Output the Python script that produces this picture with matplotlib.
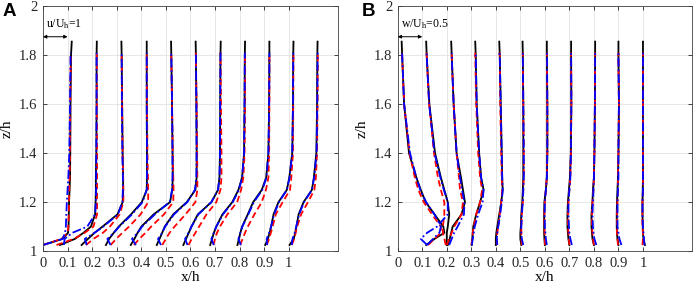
import matplotlib
matplotlib.use("Agg")
import matplotlib.pyplot as plt
import numpy as np

plt.rcParams['font.family'] = 'Liberation Serif'
plt.rcParams['mathtext.fontset'] = 'custom'
plt.rcParams['mathtext.rm'] = 'Liberation Serif'
plt.rcParams['mathtext.it'] = 'Liberation Serif:italic'

# measurement stations (x/h) and heights (z/h)
stations = [0.0, 0.1, 0.2, 0.3, 0.4, 0.5, 0.6, 0.7, 0.8, 0.9, 1.0]
z_les = [1.025, 1.05, 1.075, 1.1, 1.15, 1.2, 1.25, 1.3, 1.4, 1.6, 1.8, 1.855]
z_model = [1.025, 1.05, 1.075, 1.1, 1.15, 1.2, 1.25, 1.3, 1.4, 1.6, 1.8, 1.81]

# panel A: u/U_h
u_black = [
    [0.0, 0.8, 1.02, 1.04, 1.05, 1.06, 1.08, 1.1, 1.11, 1.12, 1.14, 1.17],
    [-0.31, 0.3, 0.65, 0.95, 1.12, 1.14, 1.15, 1.15, 1.17, 1.18, 1.18, 1.19],
    [-0.43, -0.17, 0.1, 0.42, 1.03, 1.24, 1.26, 1.26, 1.24, 1.22, 1.2, 1.19],
    [-0.44, -0.31, -0.12, 0.08, 0.58, 1.02, 1.22, 1.23, 1.23, 1.22, 1.22, 1.22],
    [-0.43, -0.28, -0.15, 0.0, 0.5, 1.17, 1.26, 1.28, 1.27, 1.25, 1.22, 1.21],
    [-0.37, -0.26, -0.15, -0.05, 0.3, 0.85, 1.2, 1.25, 1.25, 1.24, 1.22, 1.21],
    [-0.29, -0.18, -0.07, 0.04, 0.3, 0.85, 1.12, 1.18, 1.2, 1.21, 1.22, 1.23],
    [-0.2, -0.12, -0.05, 0.05, 0.3, 0.7, 0.95, 1.1, 1.18, 1.2, 1.21, 1.22],
    [-0.09, -0.03, 0.03, 0.1, 0.33, 0.55, 0.9, 1.08, 1.17, 1.2, 1.21, 1.21],
    [0.04, 0.15, 0.22, 0.28, 0.38, 0.58, 0.92, 1.02, 1.14, 1.17, 1.18, 1.19],
    [0.03, 0.2, 0.26, 0.31, 0.4, 0.6, 0.94, 1.02, 1.12, 1.15, 1.16, 1.17],
]
u_red = [
    [0.0, 0.75, 1.0, 1.03, 1.05, 1.06, 1.07, 1.08, 1.1, 1.11, 1.13, 1.14],
    [-0.45, 0.25, 0.7, 1.05, 1.2, 1.2, 1.2, 1.2, 1.2, 1.19, 1.19, 1.19],
    [-0.25, 0.05, 0.44, 0.72, 1.12, 1.27, 1.27, 1.26, 1.24, 1.22, 1.2, 1.2],
    [-0.25, -0.02, 0.23, 0.5, 0.97, 1.28, 1.28, 1.27, 1.25, 1.23, 1.22, 1.22],
    [-0.3, -0.08, 0.17, 0.4, 0.92, 1.3, 1.31, 1.3, 1.28, 1.25, 1.22, 1.21],
    [-0.15, 0.0, 0.15, 0.35, 0.8, 1.2, 1.28, 1.28, 1.27, 1.25, 1.22, 1.21],
    [-0.08, 0.05, 0.2, 0.35, 0.65, 1.05, 1.22, 1.26, 1.26, 1.24, 1.22, 1.22],
    [-0.07, 0.0, 0.08, 0.2, 0.5, 0.9, 1.06, 1.15, 1.2, 1.22, 1.22, 1.22],
    [0.02, 0.12, 0.22, 0.33, 0.6, 0.9, 1.07, 1.17, 1.2, 1.21, 1.21, 1.21],
    [0.1, 0.2, 0.27, 0.34, 0.47, 0.75, 1.05, 1.1, 1.17, 1.18, 1.19, 1.19],
    [0.12, 0.22, 0.28, 0.34, 0.5, 0.78, 1.04, 1.1, 1.15, 1.17, 1.18, 1.18],
]
u_blue = [
    [0.0, 0.8, 0.9, 0.93, 0.95, 0.97, 1.0, 1.03, 1.07, 1.1, 1.12, 1.13],
    [-0.15, -0.12, 0.2, 0.8, 1.12, 1.15, 1.16, 1.16, 1.17, 1.18, 1.18, 1.18],
    [-0.22, -0.3, 0.1, 0.45, 1.05, 1.23, 1.25, 1.25, 1.23, 1.21, 1.2, 1.19],
    [-0.25, -0.38, -0.12, 0.1, 0.62, 1.05, 1.22, 1.23, 1.23, 1.22, 1.22, 1.22],
    [-0.22, -0.38, -0.15, 0.03, 0.55, 1.15, 1.25, 1.27, 1.27, 1.25, 1.22, 1.21],
    [-0.2, -0.32, -0.15, -0.03, 0.33, 0.87, 1.18, 1.24, 1.25, 1.24, 1.22, 1.21],
    [-0.12, -0.22, -0.08, 0.04, 0.32, 0.85, 1.12, 1.18, 1.2, 1.21, 1.22, 1.22],
    [-0.05, -0.15, -0.05, 0.05, 0.32, 0.72, 0.97, 1.1, 1.18, 1.2, 1.21, 1.22],
    [0.05, -0.05, 0.03, 0.11, 0.35, 0.58, 0.92, 1.09, 1.17, 1.2, 1.21, 1.21],
    [0.12, 0.1, 0.2, 0.28, 0.4, 0.6, 0.92, 1.03, 1.14, 1.17, 1.18, 1.19],
    [0.12, 0.15, 0.24, 0.3, 0.42, 0.62, 0.94, 1.03, 1.13, 1.16, 1.17, 1.18],
]

# panel B: w/U_h
w_black = [
    [0.58, 0.75, 0.95, 0.93, 0.75, 0.57, 0.47, 0.38, 0.23, 0.13, 0.09, 0.08],
    [0.5, 0.5, 0.5, 0.52, 0.55, 0.52, 0.45, 0.38, 0.26, 0.145, 0.09, 0.08],
    [0.02, 0.06, 0.09, 0.12, 0.3, 0.37, 0.33, 0.29, 0.2, 0.14, 0.1, 0.09],
    [0.01, 0.02, 0.03, 0.04, 0.1, 0.18, 0.25, 0.2, 0.16, 0.11, 0.09, 0.08],
    [0.0, 0.0, 0.01, 0.03, 0.07, 0.11, 0.14, 0.13, 0.12, 0.1, 0.08, 0.07],
    [0.02, 0.0, 0.0, 0.01, 0.02, 0.04, 0.05, 0.06, 0.06, 0.06, 0.05, 0.045],
    [0.0, -0.01, -0.015, -0.015, -0.015, -0.01, 0.02, 0.04, 0.05, 0.05, 0.04, 0.04],
    [0.0, -0.02, -0.03, -0.04, -0.04, -0.03, -0.01, 0.01, 0.03, 0.04, 0.035, 0.035],
    [0.0, -0.03, -0.04, -0.05, -0.05, -0.03, -0.02, 0.0, 0.01, 0.02, 0.025, 0.025],
    [0.0, -0.02, -0.03, -0.035, -0.035, -0.03, -0.02, -0.01, 0.0, 0.01, 0.0, 0.0],
    [0.04, 0.01, 0.0, -0.005, -0.01, -0.01, -0.005, 0.0, 0.0, 0.0, 0.0, 0.0],
]
w_red = [
    [0.62, 0.75, 0.88, 0.88, 0.7, 0.53, 0.42, 0.35, 0.24, 0.13, 0.09, 0.09],
    [0.48, 0.45, 0.42, 0.42, 0.45, 0.45, 0.38, 0.32, 0.24, 0.14, 0.09, 0.09],
    [0.0, 0.05, 0.1, 0.15, 0.3, 0.33, 0.27, 0.25, 0.2, 0.14, 0.1, 0.1],
    [0.0, 0.02, 0.03, 0.05, 0.1, 0.18, 0.22, 0.18, 0.14, 0.1, 0.08, 0.08],
    [0.02, 0.02, 0.03, 0.05, 0.08, 0.11, 0.13, 0.12, 0.11, 0.09, 0.08, 0.07],
    [0.03, 0.02, 0.02, 0.02, 0.03, 0.05, 0.06, 0.07, 0.07, 0.06, 0.05, 0.05],
    [0.0, 0.0, -0.005, -0.01, -0.01, 0.0, 0.02, 0.04, 0.05, 0.05, 0.04, 0.04],
    [0.0, -0.01, -0.02, -0.03, -0.03, -0.02, 0.0, 0.02, 0.03, 0.04, 0.035, 0.035],
    [0.0, -0.02, -0.03, -0.04, -0.04, -0.03, -0.01, 0.0, 0.01, 0.02, 0.025, 0.025],
    [-0.01, -0.02, -0.03, -0.03, -0.03, -0.02, -0.01, -0.01, 0.0, 0.01, 0.0, 0.0],
    [-0.01, 0.0, 0.0, -0.01, -0.01, -0.01, 0.0, 0.0, 0.0, 0.0, 0.0, 0.0],
]
w_blue = [
    [0.6, 0.72, 0.85, 0.88, 0.75, 0.58, 0.46, 0.38, 0.25, 0.13, 0.09, 0.09],
    [0.1, -0.03, 0.1, 0.3, 0.52, 0.52, 0.44, 0.37, 0.25, 0.14, 0.09, 0.09],
    [0.05, 0.1, 0.15, 0.22, 0.35, 0.36, 0.31, 0.27, 0.2, 0.14, 0.1, 0.1],
    [0.01, 0.03, 0.05, 0.07, 0.14, 0.23, 0.25, 0.2, 0.16, 0.11, 0.09, 0.08],
    [0.03, 0.02, 0.03, 0.05, 0.09, 0.12, 0.14, 0.13, 0.12, 0.1, 0.08, 0.07],
    [0.06, 0.03, 0.02, 0.02, 0.03, 0.05, 0.06, 0.07, 0.07, 0.06, 0.05, 0.05],
    [0.04, 0.02, 0.01, 0.0, -0.005, 0.0, 0.02, 0.04, 0.05, 0.05, 0.045, 0.04],
    [0.05, 0.02, 0.0, -0.01, -0.02, -0.02, 0.0, 0.02, 0.03, 0.04, 0.035, 0.035],
    [0.05, 0.01, -0.01, -0.02, -0.03, -0.02, -0.01, 0.0, 0.01, 0.02, 0.025, 0.025],
    [0.06, 0.02, 0.0, -0.02, -0.02, -0.02, -0.01, 0.0, 0.0, 0.01, 0.0, 0.0],
    [0.03, 0.02, 0.01, 0.0, -0.01, -0.01, 0.0, 0.0, 0.0, 0.0, 0.0, 0.0],
]

x_ticks = [0, 0.1, 0.2, 0.3, 0.4, 0.5, 0.6, 0.7, 0.8, 0.9, 1.0]
x_tick_labels = ['0', '0.1', '0.2', '0.3', '0.4', '0.5', '0.6', '0.7', '0.8', '0.9', '1']
y_ticks = [1, 1.2, 1.4, 1.6, 1.8, 2]
y_tick_labels = ['1', '1.2', '1.4', '1.6', '1.8', '2']


def draw_panel(ax, black, red, blue, scale, ref_text, letter):
    for i, x0 in enumerate(stations):
        ax.plot(x0 + scale * np.array(black[i]), z_les, color='k', lw=1.3)
        ax.plot(x0 + scale * np.array(red[i]), z_model, color='#ff0000', lw=1.3,
                ls='--', dashes=(3.5, 2))
        ax.plot(x0 + scale * np.array(blue[i]), z_model, color='#0000ff', lw=1.3,
                ls='-.', dashes=(5, 1.5, 1, 1.5))
    ax.set_xlim(0, 1.2)
    ax.set_ylim(1, 2)
    ax.set_xticks(x_ticks)
    ax.set_xticklabels(x_tick_labels)
    ax.set_yticks(y_ticks)
    ax.set_yticklabels(y_tick_labels)
    ax.tick_params(direction='in', top=True, right=True, length=3, width=0.6,
                   labelsize=10.5, colors='#262626', pad=4)
    ax.grid(color='#e3e3e3', lw=0.6)
    ax.set_axisbelow(True)
    for sp in ax.spines.values():
        sp.set_color('#404040')
        sp.set_linewidth(0.6)
    ax.set_xlabel('x/h', fontsize=11, labelpad=1)
    ax.set_ylabel('z/h', fontsize=11, labelpad=4)
    # reference velocity arrow
    ax.annotate('', xy=(0, 1.875), xytext=(0.1, 1.875),
                arrowprops=dict(arrowstyle='<|-|>', lw=0.7, color='k',
                                shrinkA=0, shrinkB=0, mutation_scale=5))
    ax.text(0.012, 1.9, ref_text, fontsize=8.5, va='bottom', ha='left')


fig = plt.figure(figsize=(6.99, 2.91), dpi=100)
ax1 = fig.add_axes([0.0615, 0.137, 0.422, 0.842])
ax2 = fig.add_axes([0.569, 0.137, 0.421, 0.842])

draw_panel(ax1, u_black, u_red, u_blue, 0.1, 'u/U$_\\mathrm{h}$=1', 'A')
draw_panel(ax2, w_black, w_red, w_blue, 0.2, 'w/U$_\\mathrm{h}$=0.5', 'B')

fig.text(0.003, 0.988, 'A', fontsize=13.5, fontweight='bold', family='Liberation Sans',
         va='top', ha='left')
fig.text(0.517, 0.988, 'B', fontsize=13.5, fontweight='bold', family='Liberation Sans',
         va='top', ha='left')

fig.savefig('out.png', dpi=100)
